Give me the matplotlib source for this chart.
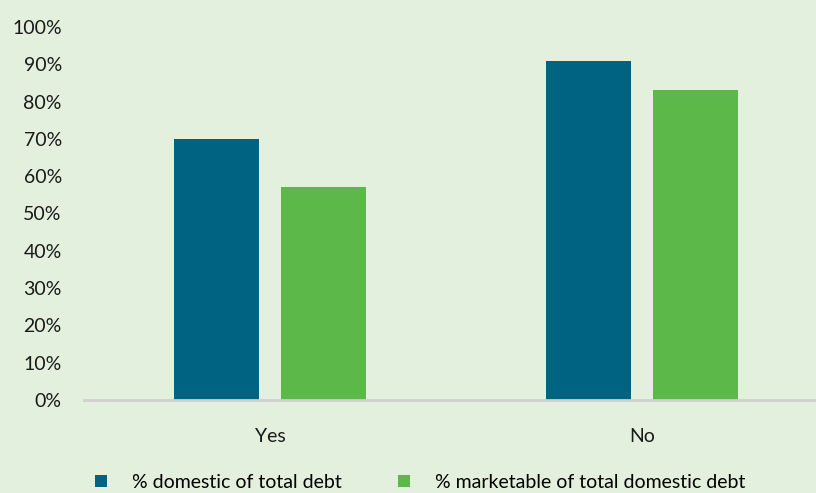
import numpy as np
import matplotlib.pyplot as plt
from matplotlib.ticker import PercentFormatter

categories = ["Yes", "No"]
domestic_share = [0.70, 0.91]
marketable_share = [0.57, 0.83]
series_names = ["% domestic of total debt", "% marketable of total domestic debt"]

bg = "#e3f0de"
teal = "#006381"
green = "#5db84a"

plt.rcParams['font.family'] = ['Lato', 'DejaVu Sans']

fig = plt.figure(figsize=(8.16, 4.93), dpi=100, facecolor=bg)
ax = fig.add_axes([84 / 816, 1 - 400 / 493, 744 / 816, 373 / 493])
ax.set_facecolor(bg)

x = np.arange(len(categories))
w = 0.228
off = 0.144
ax.bar(x - off, domestic_share, w, color=teal, label=series_names[0])
ax.bar(x + off, marketable_share, w, color=green, label=series_names[1])

ax.set_xlim(-0.5, 1.5)
ax.set_ylim(0, 1.0)
ax.set_yticks(np.arange(0, 1.01, 0.1))
ax.yaxis.set_major_formatter(PercentFormatter(1.0, decimals=0))
ax.set_xticks(x)
ax.set_xticklabels(categories)

for s in ["top", "right", "left"]:
    ax.spines[s].set_visible(False)
ax.spines["bottom"].set_color("#d0d0d0")
ax.spines["bottom"].set_linewidth(2)
ax.tick_params(axis="both", length=0, labelsize=14, colors="#1a1a1a")
ax.tick_params(axis="y", pad=16)
ax.tick_params(axis="x", pad=20)

fig.legend(loc="center", bbox_to_anchor=(0.515, 0.022), ncol=2, frameon=False,
           fontsize=14, handlelength=0.6, handleheight=0.6, columnspacing=2.9,
           handletextpad=1.3)

fig.savefig("out.png", dpi=100, facecolor=bg)
